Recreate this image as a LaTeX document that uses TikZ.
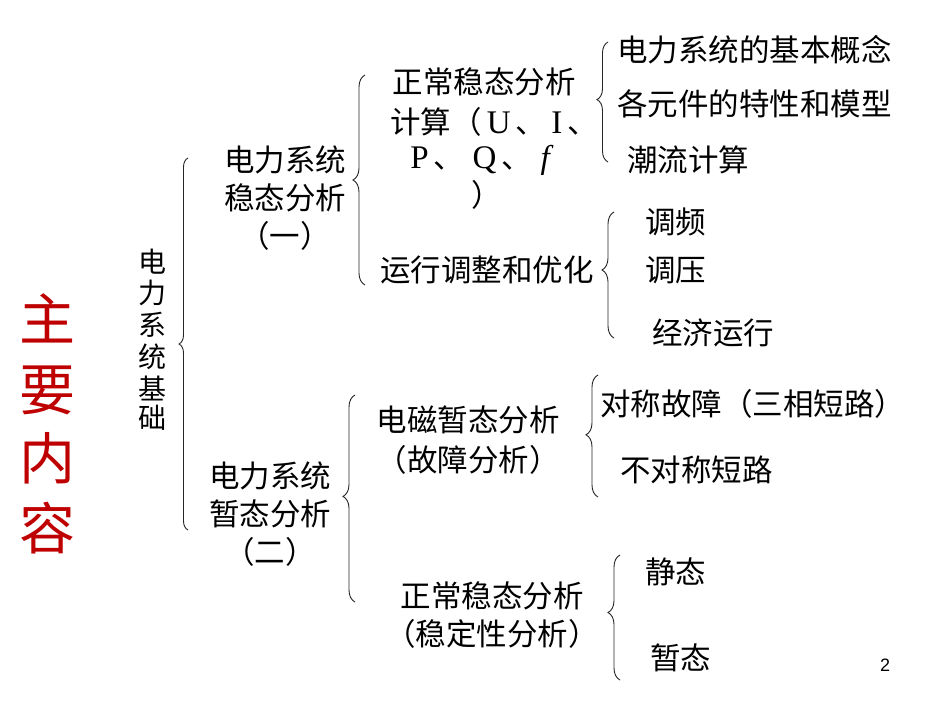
\documentclass[tikz,border=0pt]{standalone}
\usepackage{fontspec}
\setmainfont{Liberation Serif}
\newfontfamily\cjk{Noto Sans CJK SC}
\newfontfamily\lat{Liberation Serif}
\usetikzlibrary{decorations.pathreplacing}
\begin{document}
\begin{tikzpicture}[x=1pt,y=-1pt,
  txt/.style={font=\cjk\fontsize{30.5}{33}\selectfont, inner sep=0pt},
  lt/.style={txt, anchor=west},
  br/.style={draw=black!85, line width=0.9pt, decorate, decoration={brace, amplitude=#1}}]
\useasboundingbox (0,0) rectangle (950,713);
\fill[white] (0,0) rectangle (950,713);
% title
\foreach \c/\y [count=\i] in {主/318,要/390,内/458,容/528}
  \node[font=\cjk\fontsize{56}{58}\selectfont, text=red!75!black, inner sep=0pt] (t\i) at (47,\y) {\c};
\foreach \c/\y [count=\i] in {电/262,力/293,系/325,统/357,基/388,础/418}
  \node[txt, font=\cjk\fontsize{28}{30}\selectfont] (b\i) at (152,\y) {\c};
% braces
\draw[br=9] (188,530) -- (188,158);
\draw[br=12, decoration={aspect=0.5}] (365,285) -- (365,75);
\draw[br=11, decoration={aspect=0.52}] (608,162) -- (608,42);
\draw[br=12, decoration={aspect=0.54}] (614,338) -- (614,212);
\draw[br=12, decoration={aspect=0.51}] (355,602) -- (355,395);
\draw[br=12, decoration={aspect=0.51}] (598,497) -- (598,375);
\draw[br=12, decoration={aspect=0.54}] (620,680) -- (620,555);
% level 1
\node[txt, align=center] (s1) at (285,198) {电力系统\\[5pt]稳态分析\\[5pt]（一）};
\node[txt, align=center] (s2) at (270,514) {电力系统\\[5pt]暂态分析\\[5pt]（二）};
% level 2
\node[txt] (n1) at (484,82) {正常稳态分析};
\node[lt] (n1b) at (390,122) {计算（\,{\lat\fontsize{33}{33}\selectfont U}\,、\,{\lat\fontsize{33}{33}\selectfont I}\,、};
\node[txt] (n1c) at (480,160) {{\lat\fontsize{33}{33}\selectfont P}\,、\;{\lat\fontsize{33}{33}\selectfont Q}\,、\;{\lat\fontsize{33}{33}\selectfont\itshape f}};
\node[txt] (n1d) at (487,195) {）};
\node[txt] (n2) at (487,270) {运行调整和优化};
\node[txt] (n3) at (468,420) {电磁暂态分析};
\node[txt] (n3b) at (468,460) {（故障分析）};
\node[txt] (n4) at (492,596) {正常稳态分析};
\node[txt] (n4b) at (492,634) {（稳定性分析）};
% level 3
\node[lt] (m1) at (617,50) {电力系统的基本概念};
\node[lt] (m2) at (617,104) {各元件的特性和模型};
\node[lt] (m3) at (627,160) {潮流计算};
\node[lt] (m4) at (645,222) {调频};
\node[lt] (m5) at (645,270) {调压};
\node[lt] (m6) at (652,333) {经济运行};
\node[lt] (m7) at (600,404) {对称故障（三相短路）};
\node[lt] (m8) at (620,470) {不对称短路};
\node[lt] (m9) at (645,572) {静态};
\node[lt] (m10) at (650,658) {暂态};
\node[font=\fontspec{Liberation Sans}\fontsize{18}{20}\selectfont, inner sep=0pt] (pg) at (885,665) {2};
\end{tikzpicture}
\end{document}
